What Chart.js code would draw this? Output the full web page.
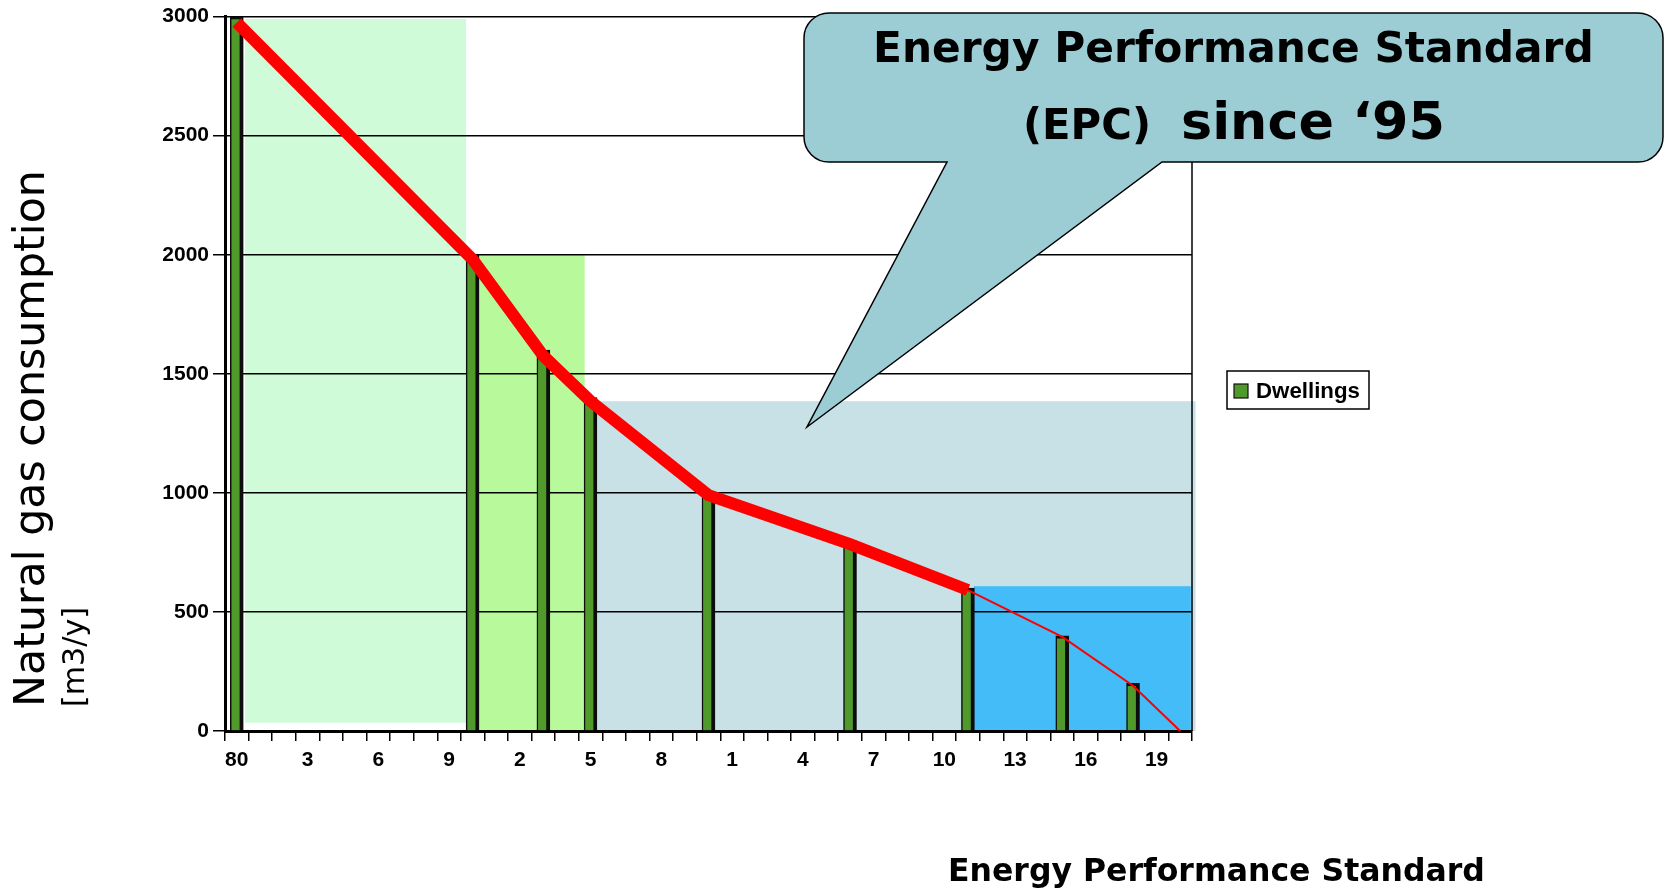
<!DOCTYPE html>
<html>
<head>
<meta charset="utf-8">
<script src="https://cdn.jsdelivr.net/npm/chart.js@4.4.1/dist/chart.umd.min.js"></script>
<style>
  html, body { margin: 0; padding: 0; background: #fff; }
</style>
</head>
<body>
<canvas id="gasChart" width="1666" height="891"></canvas>
<script>
// years 1980 .. 2020, labelled the way the original sheet did
const categories = [
  '80', '1', '2', '3', '4', '5', '6', '7', '8', '9',
  '0', '1', '2', '3', '4', '5', '6', '7', '8', '9',
  '0', '1', '2', '3', '4', '5', '6', '7', '8', '9',
  '10', '11', '12', '13', '14', '15', '16', '17', '18', '19', '20'
];

// natural gas use of a typical dwelling [m3/y]
const dwellings = [
  3000, null, null, null, null, null, null, null, null, null,
  2000, null, null, 1600, null, 1400, null, null, null, null,
  1000, null, null, null, null, null, 800, null, null, null,
  null, 600, null, null, null, 400, null, null, 200, null, null
];

// trend line through the bars, down to zero in 2020
const trend = [
  2975, null, null, null, null, null, null, null, null, null,
  1980, null, null, 1575, null, 1385, null, null, null, null,
  990, null, null, null, null, null, 785, null, null, null,
  null, 592, null, null, null, 395, null, null, 190, null, 0
];

// shaded periods (category index from / to, value top / base)
const bandFrom = [0.35, 10.3, 15.3, 31.25];
const bandTo = [9.72, 14.75, 40.65, 40.45];
const bandTop = [2990, 2000, 1385, 608];
const bandBase = [35, 0, 0, 0];

const yTicks = [0, 500, 1000, 1500, 2000, 2500, 3000];

const bandColors = ['#cffbd8', '#b8f99c', '#c8e1e6', '#44bcf8'];

function fitFont(ctx, text, weight, family, width) {
  ctx.font = weight + ' 100px ' + family;
  const size = 100 * width / ctx.measureText(text).width;
  ctx.font = weight + ' ' + size + 'px ' + family;
  return size;
}

const decor = {
  id: 'decor',
  beforeDraw(chart) {
    const { ctx, scales: { x, y } } = chart;
    ctx.save();
    bandFrom.forEach((from, i) => {
      const x0 = x.getPixelForValue(from);
      const x1 = x.getPixelForValue(bandTo[i]);
      const y0 = y.getPixelForValue(bandTop[i]);
      const y1 = y.getPixelForValue(bandBase[i]);
      ctx.fillStyle = bandColors[i];
      ctx.fillRect(x0, y0, x1 - x0, y1 - y0);
    });
    ctx.restore();
  },
  beforeDatasetsDraw(chart) {
    const { ctx, chartArea } = chart;
    ctx.save();
    ctx.strokeStyle = '#000';
    ctx.lineWidth = 1.5;
    ctx.beginPath();
    ctx.moveTo(chartArea.right, chartArea.top);
    ctx.lineTo(chartArea.right, chartArea.bottom);
    ctx.stroke();
    ctx.restore();
  },
  afterDraw(chart) {
    const ctx = chart.ctx;
    ctx.save();
    ctx.fillStyle = '#000';

    // callout bubble
    const L = 804, R = 1663, T = 13, B = 162, r = 25;
    ctx.beginPath();
    ctx.moveTo(L + r, T);
    ctx.lineTo(R - r, T);
    ctx.arcTo(R, T, R, T + r, r);
    ctx.lineTo(R, B - r);
    ctx.arcTo(R, B, R - r, B, r);
    ctx.lineTo(1162, B);
    ctx.lineTo(807, 427);
    ctx.lineTo(947, B);
    ctx.lineTo(L + r, B);
    ctx.arcTo(L, B, L, B - r, r);
    ctx.lineTo(L, T + r);
    ctx.arcTo(L, T, L + r, T, r);
    ctx.closePath();
    ctx.fillStyle = '#9ccdd5';
    ctx.fill();
    ctx.strokeStyle = '#000';
    ctx.lineWidth = 1.5;
    ctx.stroke();

    ctx.fillStyle = '#000';
    ctx.textBaseline = 'alphabetic';
    ctx.textAlign = 'left';
    fitFont(ctx, 'Energy Performance Standard', 'bold', '"DejaVu Sans"', 721);
    ctx.fillText('Energy Performance Standard', 873, 62);
    fitFont(ctx, '(EPC)', 'bold', '"DejaVu Sans"', 128);
    ctx.fillText('(EPC)', 1023, 139);
    fitFont(ctx, 'since \u201895', 'bold', '"DejaVu Sans"', 264);
    ctx.fillText('since \u201895', 1181, 139);

    // legend
    const ds = chart.data.datasets[0];
    ctx.lineWidth = 1.5;
    ctx.strokeStyle = '#000';
    ctx.fillStyle = '#fff';
    ctx.fillRect(1227, 371, 142, 38);
    ctx.strokeRect(1227, 371, 142, 38);
    ctx.fillStyle = ds.backgroundColor;
    ctx.fillRect(1234, 384, 14, 14);
    ctx.lineWidth = 1.2;
    ctx.strokeStyle = '#111';
    ctx.strokeRect(1234, 384, 14, 14);
    ctx.fillStyle = '#000';
    fitFont(ctx, ds.label, 'bold', '"Liberation Sans"', 104);
    ctx.fillText(ds.label, 1256, 398);

    // x axis title
    fitFont(ctx, 'Energy Performance Standard', 'bold', '"DejaVu Sans"', 537);
    ctx.fillText('Energy Performance Standard', 948, 881);

    // y axis titles
    ctx.translate(44, 707);
    ctx.rotate(-Math.PI / 2);
    fitFont(ctx, 'Natural gas consumption', 'normal', '"DejaVu Sans"', 537);
    ctx.fillText('Natural gas consumption', 0, 0);
    ctx.rotate(Math.PI / 2);
    ctx.translate(40, 0);
    ctx.rotate(-Math.PI / 2);
    fitFont(ctx, '[m3/y]', 'normal', '"DejaVu Sans"', 100);
    ctx.fillText('[m3/y]', 0, 0);
    ctx.restore();
  }
};

const tickFont = { family: '"Liberation Sans", Arial, sans-serif', weight: 'bold', size: 21 };

new Chart(document.getElementById('gasChart'), {
  data: {
    labels: categories,
    datasets: [
      {
        type: 'bar',
        label: 'Dwellings',
        data: dwellings,
        backgroundColor: '#4f9a2a',
        borderColor: '#0d0d0d',
        borderWidth: { left: 1.5, right: 4, top: 3, bottom: 0 },
        borderSkipped: false,
        barThickness: 13,
        skipNull: true,
        order: 1
      },
      {
        type: 'line',
        label: 'Trend',
        data: trend,
        borderColor: '#ff0000',
        borderWidth: 12,
        pointRadius: 0,
        spanGaps: true,
        tension: 0,
        clip: false,
        segment: {
          borderWidth: ctx => ctx.p0DataIndex >= 31 ? 2 : 12
        },
        order: 0
      }
    ]
  },
  options: {
    responsive: false,
    animation: false,
    devicePixelRatio: 1,
    layout: {
      padding: { left: 100, right: 474, top: 16, bottom: 0 }
    },
    plugins: {
      legend: { display: false },
      tooltip: { enabled: false }
    },
    scales: {
      x: {
        offset: true,
        grid: {
          offset: true,
          drawOnChartArea: false,
          drawTicks: true,
          tickLength: 10,
          color: '#000',
          lineWidth: 1.5
        },
        border: { display: true, color: '#000', width: 3 },
        ticks: {
          autoSkip: false,
          maxRotation: 0,
          padding: 7,
          color: '#000',
          font: tickFont,
          callback: (v, i) => i % 3 === 0 ? categories[i] : ''
        },
        afterFit: s => { s.height = 160; }
      },
      y: {
        min: 0,
        max: 3000,
        afterBuildTicks: s => { s.ticks = yTicks.map(v => ({ value: v })); },
        grid: { color: '#000', lineWidth: 1.5, tickLength: 12 },
        border: { display: true, color: '#000', width: 3 },
        ticks: {
          padding: 4,
          color: '#000',
          font: tickFont,
          callback: v => String(v)
        },
        afterFit: s => { s.width = 125; }
      }
    }
  },
  plugins: [decor]
});
</script>
</body>
</html>
